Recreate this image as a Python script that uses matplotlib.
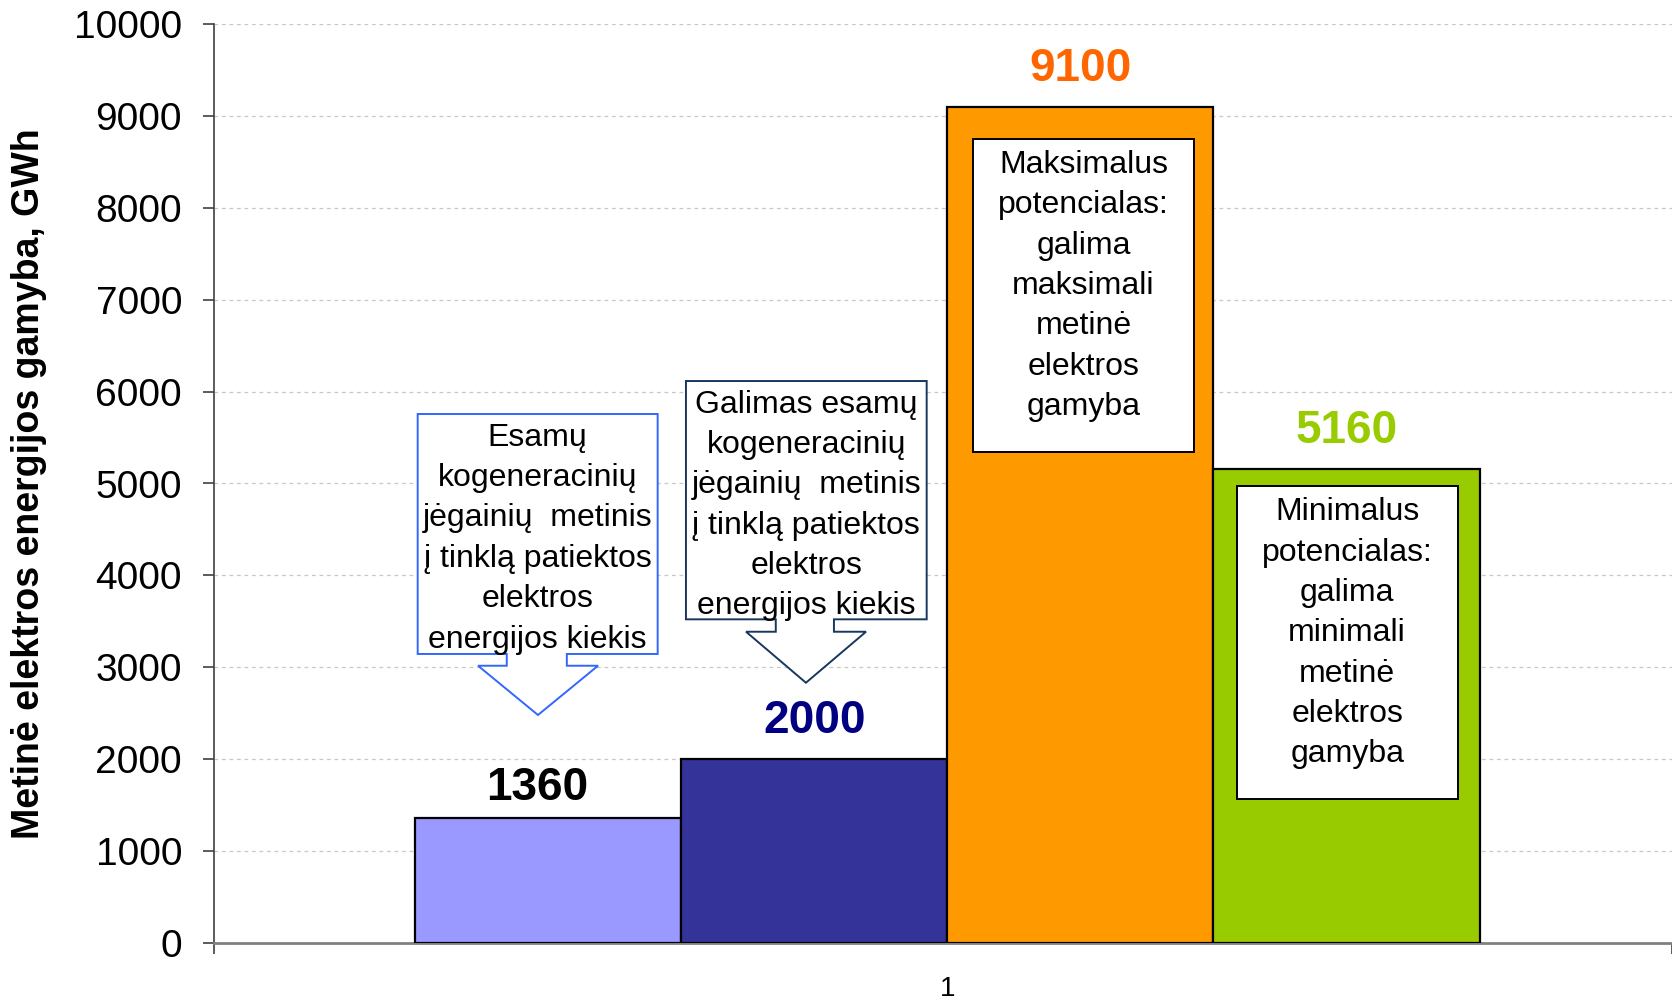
import matplotlib
matplotlib.use("Agg")
import matplotlib.pyplot as plt
from matplotlib.patches import Polygon, Rectangle

plt.rcParams['font.family'] = ['Liberation Sans', 'DejaVu Sans']

# ---------------- data ----------------
categories = ['1']
series_names = ['Esami', 'Galimi esami', 'Maksimalus', 'Minimalus']
values = [1360, 2000, 9100, 5160]
bar_colors = ['#9999FF', '#333399', '#FF9900', '#99CC00']
label_colors = ['#000000', '#000080', '#FF6600', '#99CC00']
yticks = [0, 1000, 2000, 3000, 4000, 5000, 6000, 7000, 8000, 9000, 10000]
ylabel = 'Metinė elektros energijos gamyba, GWh'

callout_texts = [
    'Esamų\nkogeneracinių\njėgainių  metinis\nį tinklą patiektos\nelektros\nenergijos kiekis',
    'Galimas esamų\nkogeneracinių\njėgainių  metinis\nį tinklą patiektos\nelektros\nenergijos kiekis',
]
box_texts = [
    'Maksimalus\npotencialas:\ngalima\nmaksimali\nmetinė\nelektros\ngamyba',
    'Minimalus\npotencialas:\ngalima\nminimali\nmetinė\nelektros\ngamyba',
]

# ---------------- figure ----------------
W, H, DPI = 1672, 1002, 100
fig = plt.figure(figsize=(W / DPI, H / DPI), dpi=DPI)
ax = fig.add_axes([214 / W, (H - 943) / H, (W - 214) / W, (943 - 24) / H])

bar_w = 0.1825
n = len(values)
offsets = [(i - (n - 1) / 2) * bar_w for i in range(n)]
xs = [1 + o for o in offsets]

x_lo, x_hi = 0.497, 1.497
ax.set_xlim(x_lo, x_hi)
ax.set_ylim(0, 10000)

ax.bar(xs, values, width=bar_w, color=bar_colors, edgecolor='black',
       linewidth=1.6, zorder=3)

# value labels
lab_dx = [-11, 0, 0, 0]
lab_dy = [18, 26, 26, 26]
for x, v, c, dx, dy in zip(xs, values, label_colors, lab_dx, lab_dy):
    ax.annotate(str(v), (x, v), xytext=(dx, dy), textcoords='offset pixels',
                ha='center', va='baseline', fontsize=33, fontweight='bold',
                color=c, zorder=6)

# grid & axes
ax.set_yticks(yticks)
ax.set_yticklabels([str(t) for t in yticks], fontsize=28)
ax.yaxis.grid(True, linestyle=(0, (3, 3)), color='#C8C8C8', linewidth=0.9, zorder=0)
ax.set_axisbelow(True)
ax.tick_params(axis='y', direction='out', length=8, width=1.2, color='#404040', pad=15)

ax.set_xticks([1])
ax.set_xticklabels(categories, fontsize=20)
ax.set_xticks([x_lo, x_hi], minor=True)
ax.tick_params(axis='x', which='major', length=0, pad=24)
ax.tick_params(axis='x', which='minor', length=8, width=1.2, color='#404040', direction='out')

for s in ['top', 'right']:
    ax.spines[s].set_visible(False)
ax.spines['left'].set_color('#404040')
ax.spines['left'].set_linewidth(1.2)
ax.spines['bottom'].set_color('#808080')
ax.spines['bottom'].set_linewidth(2)

ax.set_ylabel(ylabel, fontsize=27, fontweight='bold')
ax.yaxis.set_label_coords((47 - 214) / (W - 214), 0.5)

# ---------------- callouts (down-arrow) ----------------
sh = x_lo - 0.5  # horizontal shift of annotation shapes with the axis range
callouts = [
    dict(x0=0.6397, x1=0.8043, y0=3145, y1=5756, sx0=0.7008, sx1=0.7420, sy=3017,
         hx0=0.6811, hx1=0.7634, tx=0.7222, ty=2481, ec='#3366FF', ty_text=4400),
    dict(x0=0.8237, x1=0.9888, y0=3522, y1=6115, sx0=0.8853, sx1=0.9252, sy=3387,
         hx0=0.8649, hx1=0.9472, tx=0.9060, ty=2832, ec='#17375E', ty_text=4760),
]
for c, txt in zip(callouts, callout_texts):
    verts = [(c['x0'], c['y1']), (c['x1'], c['y1']), (c['x1'], c['y0']),
             (c['sx1'], c['y0']), (c['sx1'], c['sy']), (c['hx1'], c['sy']),
             (c['tx'], c['ty']), (c['hx0'], c['sy']), (c['sx0'], c['sy']),
             (c['sx0'], c['y0']), (c['x0'], c['y0'])]
    verts = [(vx + sh, vy) for vx, vy in verts]
    ax.add_patch(Polygon(verts, closed=True, facecolor='white', edgecolor=c['ec'],
                         linewidth=1.4, zorder=4))
    ax.text((c['x0'] + c['x1']) / 2 + sh, c['ty_text'], txt, ha='center', va='center',
            fontsize=23, linespacing=1.45, zorder=5)

boxes = [
    dict(x0=1.0204, x1=1.1724, y0=5339, y1=8745, ty_text=7150),
    dict(x0=1.2014, x1=1.3530, y0=1564, y1=4973, ty_text=3370),
]
for b, txt in zip(boxes, box_texts):
    ax.add_patch(Rectangle((b['x0'] + sh, b['y0']), b['x1'] - b['x0'], b['y1'] - b['y0'],
                           facecolor='white', edgecolor='black', linewidth=1.4, zorder=4))
    ax.text((b['x0'] + b['x1']) / 2 + sh, b['ty_text'], txt, ha='center', va='center',
            fontsize=23, linespacing=1.45, zorder=5)

fig.savefig('out.png', dpi=DPI)
